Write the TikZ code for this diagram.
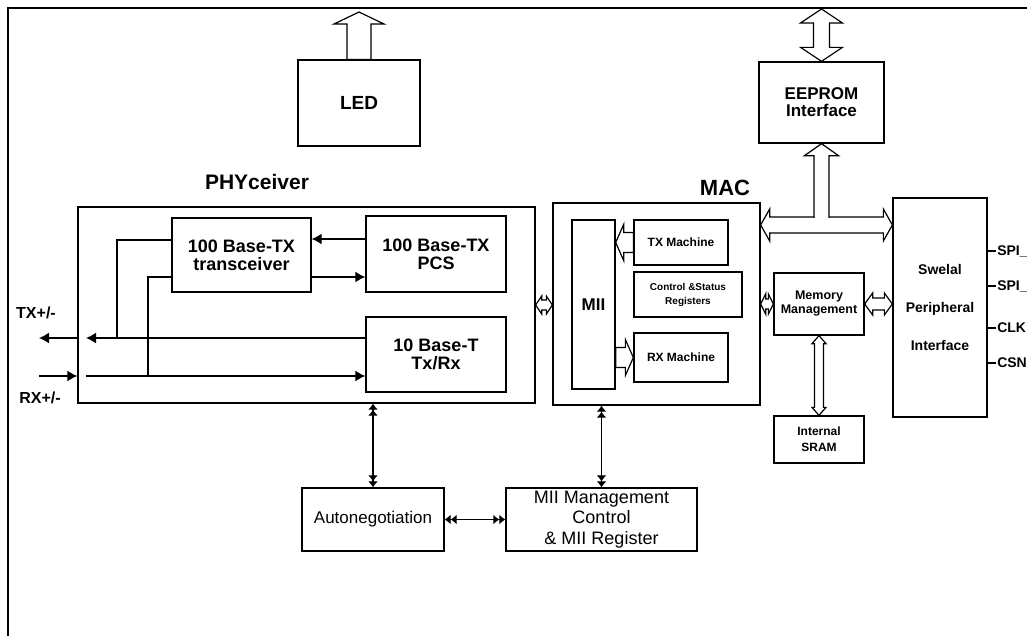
\documentclass[tikz,border=0pt]{standalone}
\usepackage{fontspec}
\setmainfont{Liberation Sans}
\usetikzlibrary{positioning,arrows.meta,calc}

\newcommand{\fs}[1]{\fontsize{#1}{#1}\selectfont}

\tikzset{
  >={Latex[length=10pt,width=11pt]},
  dtips/.style={{Latex[length=6pt,width=10pt] Latex[length=6pt,width=10pt]}-{Latex[length=6pt,width=10pt] Latex[length=6pt,width=10pt]}},
  blk/.style={draw, line width=1.3pt, align=center, inner sep=0pt, font=\bfseries\fs{17}},
  sz/.style 2 args={minimum width=#1pt, minimum height=#2pt},
  sig/.style={line width=1.5pt},
  ttl/.style={font=\bfseries\fs{21}},
  pipew/.store in=\pipew, tipw/.store in=\tipw, tipl/.store in=\tipl,
  pipew=5pt, tipw=10pt, tipl=6pt,
  hollow/.style={draw, fill=white, line width=1.2pt, line join=miter},
  hollow both/.style={hollow, to path={
    -- ($(\tikztostart)!\tipl!(\tikztotarget)!\tipw!90:(\tikztotarget)$)
    -- ($(\tikztostart)!\tipl!(\tikztotarget)!\pipew!90:(\tikztotarget)$)
    -- ($(\tikztotarget)!\tipl!(\tikztostart)!\pipew!-90:(\tikztostart)$)
    -- ($(\tikztotarget)!\tipl!(\tikztostart)!\tipw!-90:(\tikztostart)$)
    -- (\tikztotarget)
    -- ($(\tikztotarget)!\tipl!(\tikztostart)!\tipw!90:(\tikztostart)$)
    -- ($(\tikztotarget)!\tipl!(\tikztostart)!\pipew!90:(\tikztostart)$)
    -- ($(\tikztostart)!\tipl!(\tikztotarget)!\pipew!-90:(\tikztotarget)$)
    -- ($(\tikztostart)!\tipl!(\tikztotarget)!\tipw!-90:(\tikztotarget)$)
    -- cycle}},
  hollow one/.style={hollow, to path={
    ($(\tikztostart)!\pipew!90:(\tikztotarget)$)
    -- ($(\tikztotarget)!\tipl!(\tikztostart)!\pipew!-90:(\tikztostart)$)
    -- ($(\tikztotarget)!\tipl!(\tikztostart)!\tipw!-90:(\tikztostart)$)
    -- (\tikztotarget)
    -- ($(\tikztotarget)!\tipl!(\tikztostart)!\tipw!90:(\tikztostart)$)
    -- ($(\tikztotarget)!\tipl!(\tikztostart)!\pipew!90:(\tikztostart)$)
    -- ($(\tikztostart)!\pipew!-90:(\tikztotarget)$)
    -- cycle}}
}

\begin{document}
\begin{tikzpicture}[x=1pt, y=-1pt]
  \clip (0,0) rectangle (1027,635);
  \draw[line width=1.3pt] (1040,8) -- (8,8) -- (8,650);

  % Define nodes
  \node[blk, sz={122}{86}, font=\bfseries\fs{19}] (led) at (359,103) {LED};
  \node[blk, sz={125}{81}] (eeprom) at (821.5,102.5) {EEPROM\\Interface};

  \node[blk, sz={457}{196}] (phy) at (306.5,305) {};
  \node[ttl] at (257,182) {PHYceiver};
  \node[blk, sz={139}{74}, font=\bfseries\fs{18}] (trx) at (241.5,255) {100 Base-TX\\transceiver};
  \node[blk, sz={140}{76}, font=\bfseries\fs{18}] (pcs) at (436,254) {100 Base-TX\\PCS};
  \node[blk, sz={140}{75}, font=\bfseries\fs{18}] (tbt) at (436,354.5) {10 Base-T\\Tx/Rx};

  \node[blk, sz={207}{202}] (mac) at (656.5,304) {};
  \node[ttl, font=\bfseries\fs{22}] at (725,188) {MAC};
  \node[blk, sz={43}{169}] (mii) at (593.5,304.5) {MII};
  \node[blk, sz={94}{45}, font=\bfseries\fs{12}] (txm) at (681,242.5) {TX Machine};
  \node[blk, sz={108}{45}, font=\bfseries\fontsize{10}{14}\selectfont] (csr) at (688,294.5) {Control \&Status\\Registers};
  \node[blk, sz={94}{49}, font=\bfseries\fs{12}] (rxm) at (681,357.5) {RX Machine};

  \node[blk, sz={90}{62}, font=\bfseries\fontsize{12.5}{14}\selectfont] (mem) at (819,304) {Memory\\Management};
  \node[blk, sz={90}{47}, font=\bfseries\fontsize{12}{16}\selectfont] (sram) at (819,439.5) {Internal\\SRAM};
  \node[blk, sz={94}{219}, font=\bfseries\fontsize{14}{38}\selectfont] (spi) at (940,307.5) {Swelal\\Peripheral\\Interface};

  \node[blk, sz={142}{63}, font=\fs{17}] (auto) at (373,519.5) {Autonegotiation};
  \node[blk, sz={191}{63}, font=\fontsize{18}{20.5}\selectfont] (mgmt) at (601.5,519.5) {MII Management\\Control\\\& MII Register};

  \node[font=\bfseries\fs{16}] at (36,313) {TX+/-};
  \node[font=\bfseries\fs{16}] at (40,398) {RX+/-};

  % free ends
  \coordinate (txi) at (86,338);
  \coordinate (rxi) at (86,376);
  \coordinate (txo) at (39,338);
  \coordinate (rxo) at (39,376);
  \coordinate (j1) at (117,338);
  \coordinate (j2) at (148,376);
  \coordinate (ledo) at (359,12);
  \coordinate (eeo) at (821.5,9);
  \coordinate (bus) at (821.5,225);

  % PHY signals
  \draw[sig, ->] ([yshift=15pt]pcs.west) -- ([yshift=15pt]pcs.west -| trx.east);
  \draw[sig, ->] ([yshift=-22pt]trx.east) -- ([yshift=-22pt]trx.east -| pcs.west);
  \draw[sig, ->] (tbt.west |- txi) -- (txi);
  \draw[sig, ->] (rxi) -- (tbt.west |- rxi);
  \draw[sig] ([yshift=15pt]trx.west) -| (j1);
  \draw[sig] ([yshift=-22pt]trx.west) -| (j2);
  \draw[sig, ->] (phy.west |- txo) -- (txo);
  \draw[sig, ->] (rxo) -- (phy.west |- rxo);

  % management links
  \draw[sig, dtips] (auto.north |- phy.south) -- (auto.north);
  \draw[sig, dtips] (mgmt.north |- mac.south) -- (mgmt.north);
  \draw[sig, dtips] (auto.east) -- (mgmt.west);

  % wide buses
  \draw[hollow one, pipew=12pt, tipw=25pt, tipl=12pt] (led.north) to (ledo);
  \draw[hollow both, pipew=8pt, tipw=21pt, tipl=14pt] (eeprom.north) to (eeo);
  \draw[hollow both, pipew=8pt, tipw=16pt, tipl=9pt] (mac.east |- bus) to (spi.west |- bus);
  \draw[hollow one, pipew=7.5pt, tipw=17pt, tipl=12pt] (bus) to (eeprom.south);
  \fill[white] ($(mac.east |- bus)+(12pt,-7pt)$) rectangle ($(spi.west |- bus)+(-12pt,7pt)$);
  \draw[hollow both, pipew=5pt, tipw=9pt, tipl=6pt] (phy.east) to (phy.east -| mac.west);
  \draw[hollow both, pipew=5pt, tipw=10pt, tipl=5pt] (mac.east) to (mem.west);
  \draw[hollow both, pipew=6pt, tipw=11pt, tipl=8pt] (mem.east) to (mem.east -| spi.west);
  \draw[hollow both, pipew=4.5pt, tipw=7pt, tipl=8pt] (mem.south) to (sram.north);
  \draw[hollow one, pipew=10pt, tipw=18pt, tipl=8pt] (txm.west) to (txm.west -| mii.east);
  \draw[hollow one, pipew=10pt, tipw=18pt, tipl=8pt] (rxm.west -| mii.east) to (rxm.west);

  % SPI pins
  \foreach \y/\t in {251/SPI\_IN, 286/SPI\_OUT, 328/CLK, 363/CSN}
    \draw[line width=1.2pt] (spi.east |- 0,\y) -- ++(8,0) node[right, inner sep=1pt, font=\bfseries\fs{14}] {\t};
\end{tikzpicture}
\end{document}
